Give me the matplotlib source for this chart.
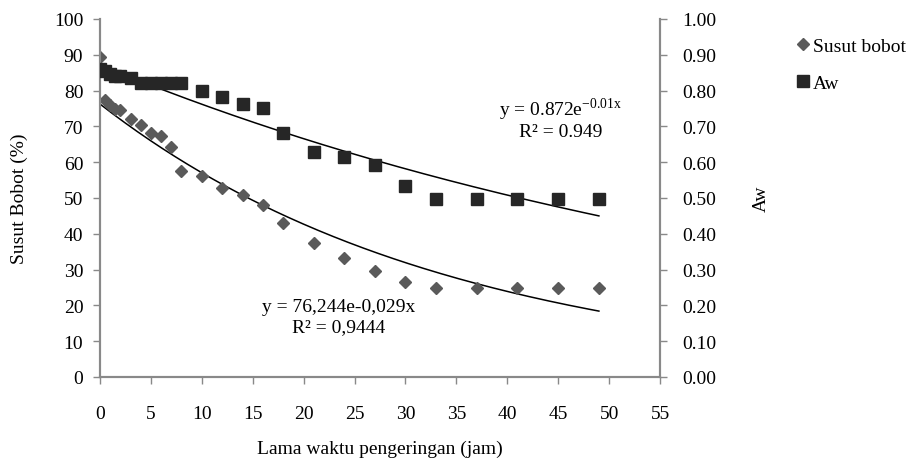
import matplotlib.pyplot as plt
import numpy as np

plt.rcParams['font.family'] = ['Liberation Serif', 'DejaVu Serif']
plt.rcParams['mathtext.fontset'] = 'stix'

# drying time (hours) and measurements
jam = [0, 0.5, 1, 1.5, 2, 3, 4, 5, 6, 7, 8, 10, 12, 14, 16, 18, 21, 24, 27, 30, 33, 37, 41, 45, 49]
susut_jam = [0, 0.5, 1, 1.5, 2, 3, 4, 5, 6, 7, 8, 10, 12, 14, 16, 18, 21, 24, 27, 30, 33, 37, 41, 45, 49]
susut_bobot = [89.5, 77.5, 76, 75, 74.5, 72, 70.5, 68.2, 67.2, 64.2, 57.5, 56.2, 52.7, 50.8, 48,
               43, 37.5, 33.2, 29.5, 26.6, 24.8, 24.8, 24.8, 24.8, 24.8]
aw = [0.86, 0.855, 0.845, 0.84, 0.84, 0.835, 0.82, 0.82, 0.82, 0.82, 0.82, 0.80, 0.782, 0.763,
      0.751, 0.682, 0.628, 0.614, 0.592, 0.533, 0.497, 0.497, 0.497, 0.497, 0.497]

# exponential trend lines
susut_a, susut_k = 76.244, 0.029
aw_a, aw_k = 0.872, 0.0135

grey = '#898989'
fs = 14

fig = plt.figure(figsize=(9.11, 4.64), dpi=100)
ax = fig.add_axes([100 / 911, 86 / 464, 560 / 911, 358 / 464])
ax2 = ax.twinx()

xs = np.linspace(0, 49, 200)
ax.plot(susut_jam, susut_bobot, 'D', color='#5a5a5a', markersize=6.5, label='Susut bobot', zorder=3)
ax.plot(xs, susut_a * np.exp(-susut_k * xs), color='black', lw=1.1)
ax2.plot(jam, aw, 's', color='#262626', markersize=9, label='Aw', zorder=3)
ax2.plot(xs, aw_a * np.exp(-aw_k * xs), color='black', lw=1.1)

ax.set_xlim(0, 55)
ax.set_ylim(0, 100)
ax2.set_ylim(0, 1.0)
ax.set_xticks(np.arange(0, 56, 5))
ax.set_yticks(np.arange(0, 101, 10))
ax2.set_yticks(np.arange(0, 1.01, 0.1))
ax2.set_yticklabels([f'{v:.2f}' for v in np.arange(0, 1.01, 0.1)])

for a in (ax, ax2):
    a.spines['top'].set_visible(False)
    for s in ('left', 'right', 'bottom'):
        a.spines[s].set_color(grey)
        a.spines[s].set_linewidth(1.5)
    a.tick_params(colors=grey, labelcolor='black', labelsize=fs, length=5, width=1)
ax.tick_params(axis='x', pad=15)
ax.tick_params(axis='y', pad=7)
ax2.tick_params(axis='y', pad=11)

ax.set_xlabel('Lama waktu pengeringan (jam)', fontsize=fs)
ax.xaxis.set_label_coords(0.5, -0.175)
ax.set_ylabel('Susut Bobot (%)', fontsize=fs)
ax.yaxis.set_label_coords(-0.128, 0.5)
ax2.set_ylabel('Aw', fontsize=fs)
ax2.yaxis.set_label_coords(1.166, 0.5)

ax2.text(45.2, 0.75, r'y = 0.872e$^{\mathregular{-0.01x}}$', ha='center', va='center', fontsize=fs)
ax2.text(45.2, 0.685, 'R² = 0.949', ha='center', va='center', fontsize=fs)
ax.text(23.4, 19.8, 'y = 76,244e-0,029x', ha='center', va='center', fontsize=fs)
ax.text(23.4, 14, 'R² = 0,9444', ha='center', va='center', fontsize=fs)

h1, l1 = ax.get_legend_handles_labels()
h2, l2 = ax2.get_legend_handles_labels()
fig.legend(h1 + h2, l1 + l2, loc='upper left', bbox_to_anchor=(779 / 911, 1 - 21 / 464),
           frameon=False, fontsize=fs, handlelength=0.7, handletextpad=0.15, labelspacing=1.0)

fig.savefig('out.png', dpi=100)
